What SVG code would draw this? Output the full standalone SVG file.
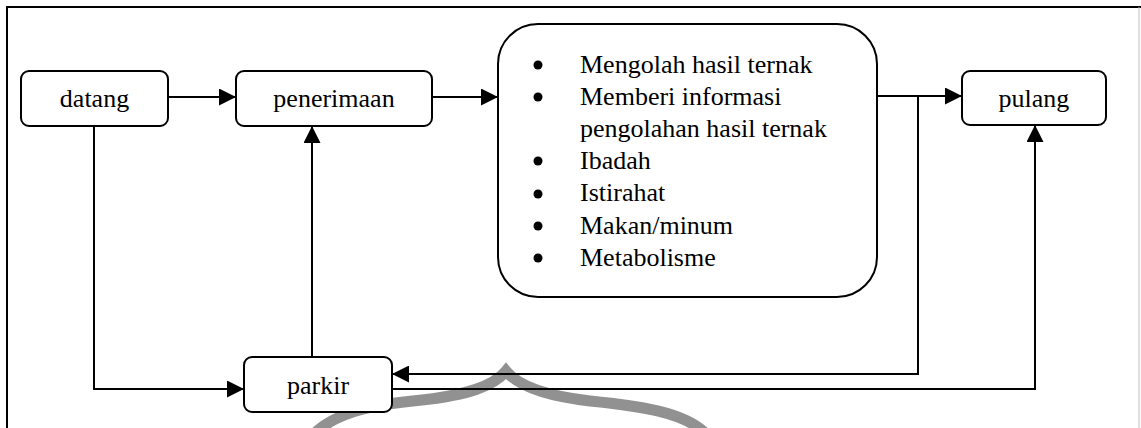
<svg xmlns="http://www.w3.org/2000/svg" width="1141" height="428" viewBox="0 0 1141 428">
  <style>
    .box { fill: #fff; stroke: #000; stroke-width: 2; }
    .lbl { font-family: "Liberation Serif", "Times New Roman", serif; font-size: 26px; fill: #000; }
    .mid { text-anchor: middle; }
    .wire { fill: none; stroke: #000; stroke-width: 2; }
    .bullet { fill: #000; }
  </style>
  <defs>
    <marker id="arrow" markerUnits="userSpaceOnUse" markerWidth="17" markerHeight="17" viewBox="0 0 16 16" refX="16" refY="8" orient="auto">
      <path d="M0,0 L16,8 L0,16 Z" fill="#000"/>
    </marker>
  </defs>

  <rect width="1141" height="428" fill="#fff"/>

  <!-- watermark dome -->
  <path d="M 316 432 C 340 410, 380 404, 422 400 C 468 395, 494 386, 506 371 C 518 386, 546 396, 590 401 C 640 406, 682 412, 704 432" fill="none" stroke="#858585" stroke-width="11" stroke-linecap="round" opacity="0.9"/>

  <!-- page frame -->
  <path d="M 7 428 L 7 7 L 1141 7" fill="none" stroke="#000" stroke-width="2"/>
  <line x1="1139" y1="7" x2="1139" y2="428" stroke="#bdbdbd" stroke-width="1"/>

  <g id="connectors">
    <path class="wire" d="M 168 97 L 236 97" marker-end="url(#arrow)"/>
    <path class="wire" d="M 432 97 L 498 97" marker-end="url(#arrow)"/>
    <path class="wire" d="M 877 96 L 962 96" marker-end="url(#arrow)"/>
    <path class="wire" d="M 94 126 L 94 389 L 244 389" marker-end="url(#arrow)"/>
    <path class="wire" d="M 312 357 L 312 126" marker-end="url(#arrow)"/>
    <path class="wire" d="M 918 96 L 918 374 L 392 374" marker-end="url(#arrow)"/>
    <path class="wire" d="M 392 389 L 1035 389 L 1035 125" marker-end="url(#arrow)"/>
  </g>

  <g id="datang">
    <rect class="box" x="21" y="71" width="147" height="55" rx="8"/>
    <text class="lbl mid" x="94.5" y="107">datang</text>
  </g>

  <g id="penerimaan">
    <rect class="box" x="236" y="71" width="196" height="55" rx="8"/>
    <text class="lbl mid" x="334" y="107">penerimaan</text>
  </g>

  <g id="aktivitas">
    <rect class="box" x="498" y="24" width="379" height="273" rx="40"/>
    <circle class="bullet" cx="538" cy="65" r="4.5"/>
    <circle class="bullet" cx="538" cy="97" r="4.5"/>
    <circle class="bullet" cx="538" cy="161" r="4.5"/>
    <circle class="bullet" cx="538" cy="194" r="4.5"/>
    <circle class="bullet" cx="538" cy="226" r="4.5"/>
    <circle class="bullet" cx="538" cy="258" r="4.5"/>
    <text class="lbl" x="580" y="73">Mengolah hasil ternak</text>
    <text class="lbl" x="580" y="105">Memberi informasi</text>
    <text class="lbl" x="580" y="137">pengolahan hasil ternak</text>
    <text class="lbl" x="580" y="169">Ibadah</text>
    <text class="lbl" x="580" y="201">Istirahat</text>
    <text class="lbl" x="580" y="234">Makan/minum</text>
    <text class="lbl" x="580" y="266">Metabolisme</text>
  </g>

  <g id="pulang">
    <rect class="box" x="962" y="71" width="144" height="54" rx="8"/>
    <text class="lbl mid" x="1034" y="107">pulang</text>
  </g>

  <g id="parkir">
    <rect class="box" x="244" y="357" width="148" height="55" rx="8"/>
    <text class="lbl mid" x="318" y="394">parkir</text>
  </g>
</svg>
